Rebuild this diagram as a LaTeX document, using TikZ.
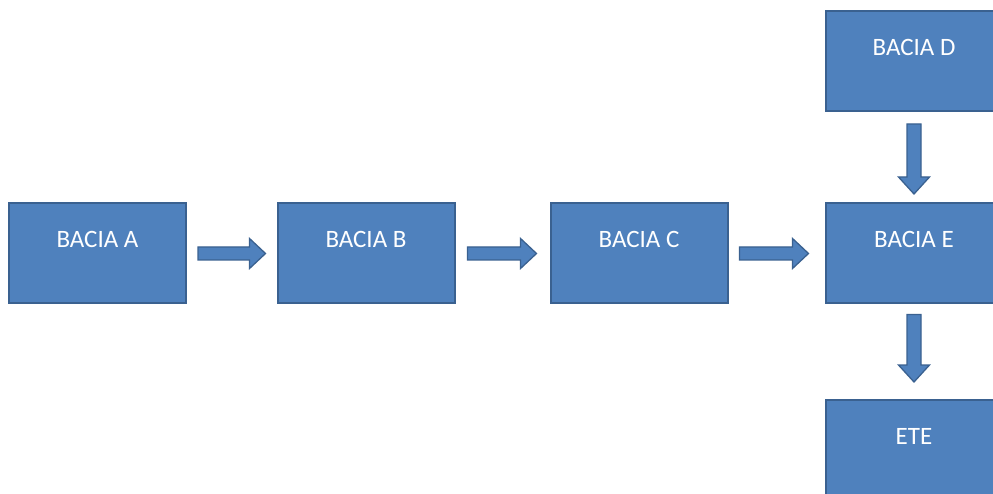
\documentclass[tikz,border=0pt]{standalone}
\usepackage{fontspec}
\setmainfont{Carlito}
\usetikzlibrary{calc}
\definecolor{boxfill}{HTML}{4F81BD}
\definecolor{boxline}{HTML}{3A6190}
\tikzset{
  bacia/.style={draw=boxline, line width=2pt, fill=boxfill, rectangle,
    minimum width=177pt, minimum height=100pt, inner sep=0pt,
    text=white, font=\fontsize{25}{30}\selectfont,
    text height=16pt, text depth=27pt},
  flowarrow/.style={draw=boxline, line width=1.3pt, fill=boxfill, line join=miter}
}
% block arrow pointing right: from node, to node, start gap, end gap
\newcommand\rightflow[4]{%
  \filldraw[flowarrow]
    ($(#1.east)+(#3,-6.5)$) -- ($(#2.west)+(-#4-16,-6.5)$) -- ++(0,-8.5)
    -- ($(#2.west)+(-#4,0)$)
    -- ($(#2.west)+(-#4-16,15)$) -- ++(0,-8.5)
    -- ($(#1.east)+(#3,6.5)$) -- cycle;}
% block arrow pointing down: from node, to node, start gap, end gap
\newcommand\downflow[4]{%
  \filldraw[flowarrow]
    ($(#1.south)+(-7,#3)$) -- ($(#2.north)+(-7,-#4-17)$) -- ++(-8.5,0)
    -- ($(#2.north)+(0,-#4)$)
    -- ($(#2.north)+(15.5,-#4-17)$) -- ++(-8.5,0)
    -- ($(#1.south)+(7,#3)$) -- cycle;}
\begin{document}
\begin{tikzpicture}[x=1pt,y=-1pt]
  \useasboundingbox (0,0) rectangle (993,494);
  \node[bacia] (a)   at (97.5,253.5) {BACIA A};
  \node[bacia] (b)   at (366,253.5)  {BACIA B};
  \node[bacia] (c)   at (639,253.5)  {BACIA C};
  \node[bacia] (e)   at (914,253.5)  {BACIA E};
  \node[bacia] (d)   at (914,61)     {BACIA D};
  \node[bacia] (ete) at (914,450)    {ETE};
  \rightflow{a}{b}{11}{11}
  \rightflow{b}{c}{12}{13}
  \rightflow{c}{e}{11}{16}
  \downflow{d}{e}{12}{8.5}
  \downflow{e}{ete}{10}{17}
\end{tikzpicture}
\end{document}
